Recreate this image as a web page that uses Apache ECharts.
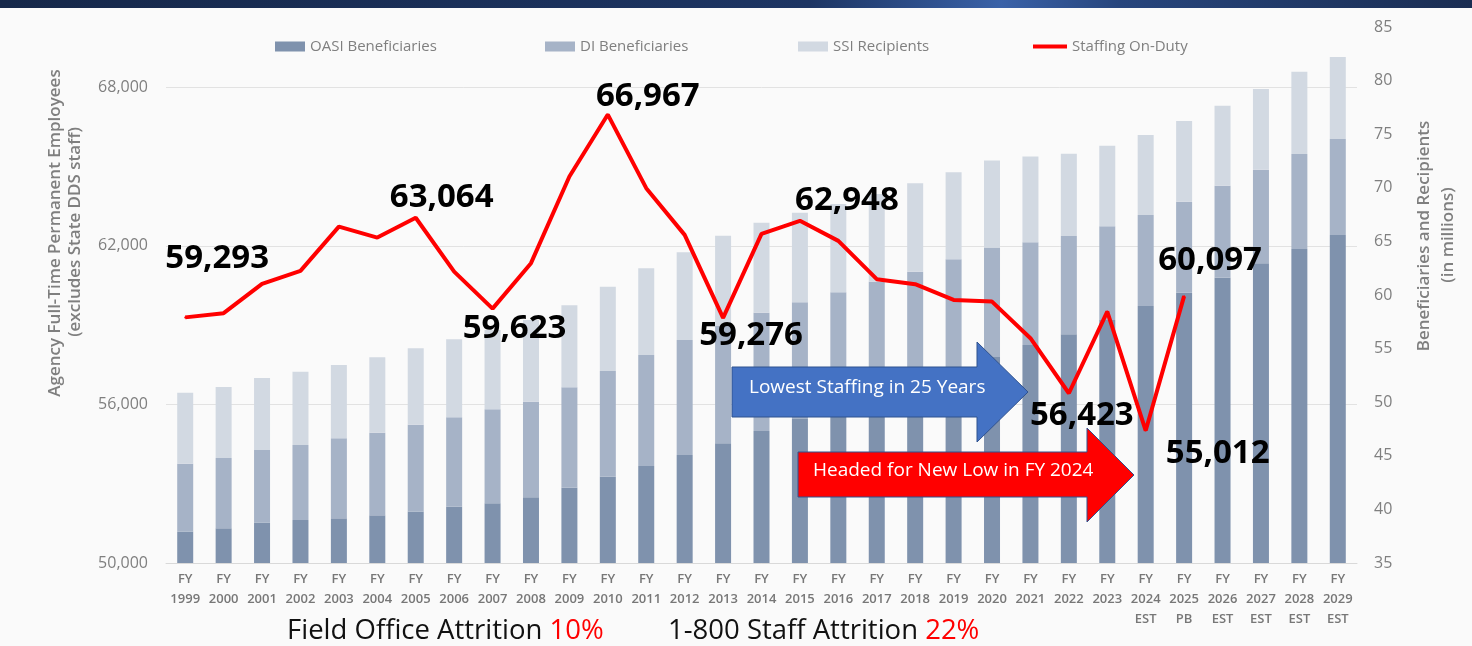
<!DOCTYPE html>
<html><head><meta charset="utf-8">
<script src="https://cdn.jsdelivr.net/npm/echarts@6/dist/echarts.min.js"></script>
<style>html,body{margin:0;padding:0;background:#fafafa}#c{width:1472px;height:646px}</style>
</head><body><div id="c"></div>
<script>
// ---------- data ----------
const categories = ['FY\n1999','FY\n2000','FY\n2001','FY\n2002','FY\n2003','FY\n2004','FY\n2005','FY\n2006','FY\n2007','FY\n2008',
  'FY\n2009','FY\n2010','FY\n2011','FY\n2012','FY\n2013','FY\n2014','FY\n2015','FY\n2016','FY\n2017','FY\n2018',
  'FY\n2019','FY\n2020','FY\n2021','FY\n2022','FY\n2023','FY\n2024\nEST','FY\n2025\nPB','FY\n2026\nEST','FY\n2027\nEST','FY\n2028\nEST','FY\n2029\nEST'];
// millions
const oasiBeneficiaries = [37.92,38.24,38.76,39.01,39.17,39.45,39.80,40.25,40.57,41.13,42.02,43.05,44.05,45.07,46.17,47.31,48.43,49.65,50.76,51.98,53.10,54.22,55.34,56.33,57.67,58.97,60.21,61.61,62.96,64.29,65.60];
const diBeneficiaries   = [6.34,6.56,6.78,7.00,7.46,7.71,8.10,8.34,8.77,8.92,9.37,9.86,10.35,10.73,10.94,11.04,10.89,10.61,10.48,10.20,10.23,10.20,9.58,9.17,8.74,8.49,8.49,8.58,8.73,8.86,8.96];
const ssiRecipients     = [6.62,6.62,6.72,6.84,6.84,7.03,7.13,7.28,7.40,7.62,7.65,7.86,8.09,8.18,8.42,8.40,8.36,8.24,8.18,8.25,8.12,8.12,7.99,7.68,7.52,7.46,7.53,7.46,7.53,7.68,7.65];
// employees
const staffingOnDuty = [59293,59451,60560,61052,62729,62313,63064,61026,59623,61344,64622,66967,64182,62415,59276,62453,62948,62188,60738,60549,59955,59890,58505,56423,59512,55012,60097,null,null,null,null];
const seriesNames = ['OASI Beneficiaries','DI Beneficiaries','SSI Recipients','Staffing On-Duty'];

// ---------- styling ----------
const FONT = '"Open Sans", "Noto Sans", sans-serif';
const GRAY = '#7f7f7f';
const barColors = ['#7f92ad','#a6b3c7','#d2d9e2'];
const labelOffsets = {0:[32,-59],6:[26,-20],8:[22,20],11:[40,-18],14:[28,18],16:[47,-20],23:[13,22],25:[72,23],26:[26,-36]};
const legendLefts = [270,540,793,1028];

const chart = echarts.init(document.getElementById('c'), null, {renderer:'canvas'});

const lineData = staffingOnDuty.map((v,i) => labelOffsets[i]
  ? {value:v, label:{show:true, position:'inside', offset:labelOffsets[i]}}
  : v);

const barSeries = [oasiBeneficiaries, diBeneficiaries, ssiRecipients].map((arr,k) => ({
  name: seriesNames[k], type:'bar', stack:'ben', yAxisIndex:1, data: arr,
  barWidth:16, clip:true, itemStyle:{color:barColors[k]}, emphasis:{disabled:true}, z:2
}));

const legends = seriesNames.map((n,k) => ({
  data:[n], left:legendLefts[k], top:34,
  itemWidth: k===3 ? 34 : 30, itemHeight: k===3 ? 4 : 10, itemGap:5,
  icon:'rect',
  textStyle:{color:GRAY, fontSize:15, fontFamily:FONT}, selectedMode:false
}));

const option = {
  backgroundColor:'#fafafa',
  animation:false,
  textStyle:{fontFamily:FONT},
  legend: legends,
  grid:{left:166, right:115, top:27, bottom:83},
  xAxis:{
    type:'category', data:categories,
    axisTick:{show:false},
    axisLine:{lineStyle:{color:'#d9d9d9', width:1}},
    axisLabel:{interval:0, color:'#777', fontSize:13, fontWeight:600, lineHeight:20, margin:6, fontFamily:FONT}
  },
  yAxis:[
    { type:'value', min:50000, max:70280, interval:6000, position:'left',
      axisLine:{show:false}, axisTick:{show:false},
      axisLabel:{color:GRAY, fontSize:16, margin:18, showMaxLabel:false, fontFamily:FONT,
        formatter:v => v.toLocaleString('en-US')},
      splitLine:{show:true, showMaxLine:false, lineStyle:{color:'#e2e2e2', width:1}}
    },
    { type:'value', min:35, max:85, interval:5, position:'right',
      axisLine:{show:false}, axisTick:{show:false}, splitLine:{show:false},
      axisLabel:{color:GRAY, fontSize:16, margin:17, fontFamily:FONT}
    }
  ],
  series:[
    ...barSeries,
    { name:seriesNames[3], type:'line', yAxisIndex:0, data:lineData,
      color:'#ff0000',
      lineStyle:{color:'#ff0000', width:4},
      itemStyle:{color:'#ff0000'},
      symbol:'circle', symbolSize:2, showSymbol:true, showAllSymbol:true,
      connectNulls:false, z:10, emphasis:{disabled:true},
      label:{show:false, color:'#000', fontSize:33, fontWeight:'bold', fontFamily:FONT,
        formatter:p => Number(p.value).toLocaleString('en-US')}
    }
  ],
  graphic:[
    { type:'rect', z:100, shape:{x:0,y:0,width:1472,height:8},
      style:{fill:new echarts.graphic.LinearGradient(0,0,1,0,[
        {offset:0,color:'#16284a'},{offset:0.55,color:'#1d3563'},{offset:0.68,color:'#3a62a8'},
        {offset:0.76,color:'#27457d'},{offset:1,color:'#1a2d52'}])}},
    // axis titles
    { type:'text', z:5, x:55, y:233, rotation:Math.PI/2,
      style:{text:'Agency Full-Time Permanent Employees', fill:GRAY, font:'600 17px '+FONT, align:'center', verticalAlign:'middle'}},
    { type:'text', z:5, x:75, y:232, rotation:Math.PI/2,
      style:{text:'(excludes State DDS staff)', fill:GRAY, font:'600 17px '+FONT, align:'center', verticalAlign:'middle'}},
    { type:'text', z:5, x:1424, y:236, rotation:Math.PI/2,
      style:{text:'Beneficiaries and Recipients', fill:GRAY, font:'600 17px '+FONT, align:'center', verticalAlign:'middle'}},
    { type:'text', z:5, x:1448, y:235, rotation:Math.PI/2,
      style:{text:'(in millions)', fill:GRAY, font:'600 17px '+FONT, align:'center', verticalAlign:'middle'}},
    // arrows
    { type:'polygon', z:6, shape:{points:[[732,367],[977,367],[977,342],[1028,392],[977,442],[977,417],[732,417]]},
      style:{fill:'#4472c4', stroke:'#2f528f', lineWidth:1}},
    { type:'text', z:7, x:749, y:388,
      style:{text:'Lowest Staffing in 25 Years', fill:'#ffffff', font:'19px '+FONT, align:'left', verticalAlign:'middle'}},
    { type:'polygon', z:6, shape:{points:[[798,452],[1087,452],[1087,428],[1134,475],[1087,522],[1087,497],[798,497]]},
      style:{fill:'#ff0000', stroke:'#2f528f', lineWidth:1}},
    { type:'text', z:7, x:813, y:471,
      style:{text:'Headed for New Low in FY 2024', fill:'#ffffff', font:'19px '+FONT, align:'left', verticalAlign:'middle'}},
    // bottom notes
    { type:'text', z:5, x:287, y:631,
      style:{text:'{a|Field Office Attrition }{b|10%}', align:'left', verticalAlign:'middle',
        rich:{a:{fill:'#111', fontSize:27.5, fontFamily:FONT}, b:{fill:'#ff0000', fontSize:27.5, fontFamily:FONT}}}},
    { type:'text', z:5, x:668, y:631,
      style:{text:'{a|1-800 Staff Attrition }{b|22%}', align:'left', verticalAlign:'middle',
        rich:{a:{fill:'#111', fontSize:27.5, fontFamily:FONT}, b:{fill:'#ff0000', fontSize:27.5, fontFamily:FONT}}}}
  ]
};
chart.setOption(option);
</script></body></html>
